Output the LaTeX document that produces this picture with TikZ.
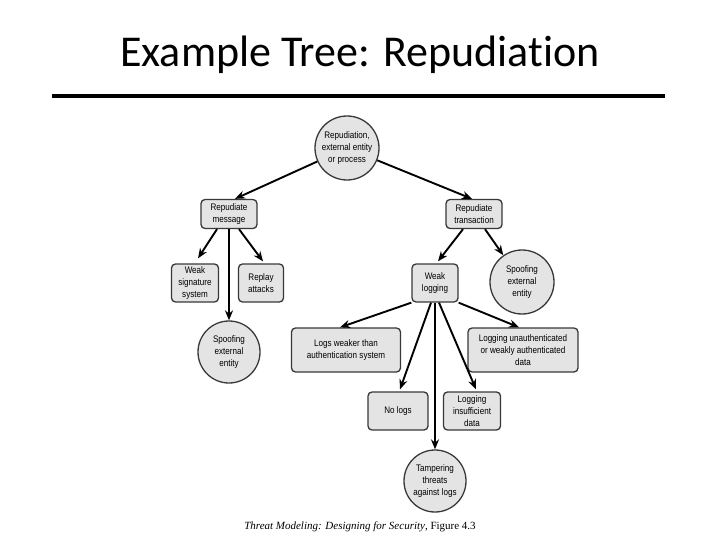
\documentclass[tikz,border=0pt]{standalone}
\usepackage{fontspec}
\setmainfont{Liberation Serif}
\newfontfamily\titlefont[RawFeature={-liga;-clig;-calt;-dlig}]{Carlito}
\newfontfamily\nodefont[FakeStretch=0.85]{Liberation Sans}
\usetikzlibrary{arrows.meta}
\definecolor{nodefill}{HTML}{E4E4E4}
\definecolor{nodeline}{HTML}{383838}
\tikzset{
  every picture/.style={x=1pt,y=-1pt},
  base/.style={draw=nodeline, fill=nodefill, line width=1.3pt, align=center,
    font=\nodefont\fontsize{9.5}{11.7}\selectfont, inner sep=0pt},
  box/.style={base, rounded corners=4pt},
  circ/.style={base, circle},
  arr/.style={-{Stealth[length=10pt,width=8pt]}, line width=1.9pt, black},
}
\begin{document}
\begin{tikzpicture}
\useasboundingbox (0,0) rectangle (720,540);
\node[font=\titlefont\fontsize{44}{48}\selectfont] (title) at (360,55) {Example Tree: Repudiation};
\coordinate (rl) at (52,96);
\coordinate (rr) at (665,96);
\draw[line width=4pt] (rl) -- (rr);

\node[circ, minimum size=64pt] (root) at (347,148) {Repudiation,\\external entity\\or process};
\node[box, minimum width=56pt, minimum height=29pt] (rm) at (229,214) {Repudiate\\message};
\node[box, minimum width=56pt, minimum height=29pt] (rt) at (474,214) {Repudiate\\transaction};
\node[box, minimum width=47pt, minimum height=38pt] (ws) at (195,283) {Weak\\signature\\system};
\node[box, minimum width=45pt, minimum height=38pt] (ra) at (261,283) {Replay\\attacks};
\node[circ, minimum size=62pt] (sl) at (229,352) {Spoofing\\external\\entity};
\node[box, minimum width=46pt, minimum height=38pt] (wl) at (435,283) {Weak\\logging};
\node[circ, minimum size=64pt] (sr) at (522,282) {Spoofing\\external\\entity};
\node[box, minimum width=109pt, minimum height=44pt] (lw) at (346,350) {Logs weaker than\\authentication system};
\node[box, minimum width=110pt, minimum height=44pt] (lu) at (523,350) {Logging unauthenticated\\or weakly authenticated\\data};
\node[box, minimum width=60pt, minimum height=38pt] (nl) at (398,411) {No logs};
\node[box, minimum width=57pt, minimum height=38pt] (li) at (472,411) {Logging\\insufficient\\data};
\node[circ, minimum size=62pt] (tp) at (435,481) {Tampering\\threats\\against logs};

\draw[arr] (root) -- ([xshift=6pt]rm.north);
\draw[arr] (root) -- ([xshift=-2pt]rt.north);
\draw[arr] ([xshift=-12pt]rm.south) -- ([xshift=3pt,yshift=5pt]ws.north);
\draw[arr] (rm.south) -- (sl.north);
\draw[arr] ([xshift=10pt]rm.south) -- ([xshift=2pt,yshift=2pt]ra.north);
\draw[arr] ([xshift=-11pt]rt.south) -- ([xshift=3pt,yshift=2pt]wl.north);
\draw[arr] ([xshift=11pt]rt.south) -- (sr);
\draw[arr] (wl.south west) -- ([xshift=-6pt]lw.north);
\draw[arr] (wl.south east) -- ([xshift=-4pt]lu.north);
\draw[arr] ([xshift=-4pt]wl.south) -- ([xshift=2pt,yshift=2pt]nl.north);
\draw[arr] ([xshift=4pt]wl.south) -- ([xshift=4pt,yshift=2pt]li.north);
\draw[arr] (wl.south) -- (tp.north);

\node[font=\fontsize{11}{13}\selectfont] (cap) at (360,527) {\textit{Threat Modeling: Designing for Security}, Figure 4.3};
\end{tikzpicture}
\end{document}
